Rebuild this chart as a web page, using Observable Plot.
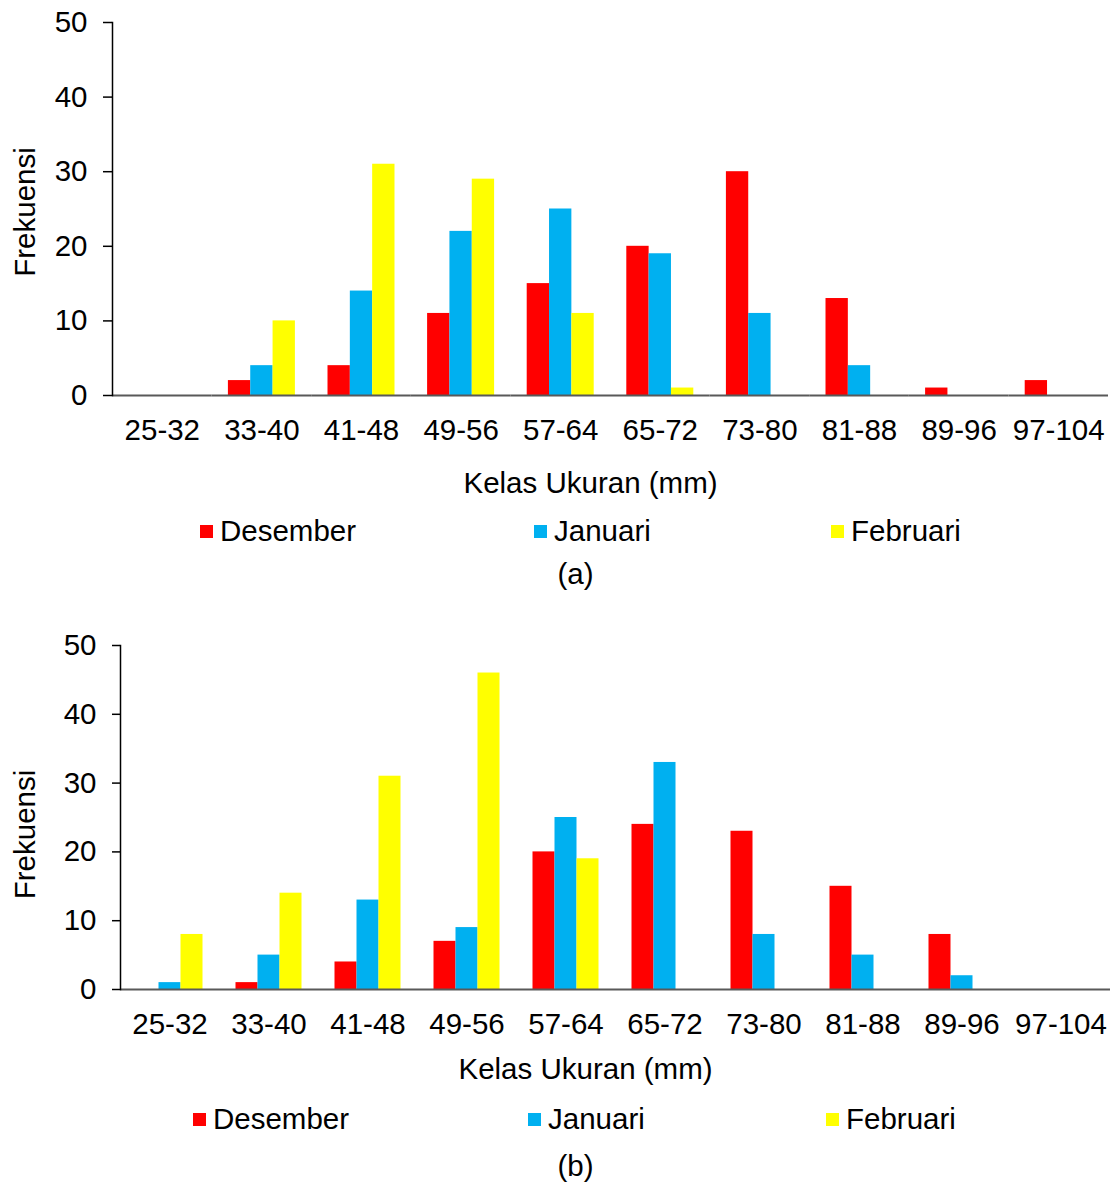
<!DOCTYPE html>
<html>
<head>
<meta charset="utf-8">
<script src="https://cdn.jsdelivr.net/npm/d3@7"></script>
<script src="https://cdn.jsdelivr.net/npm/@observablehq/plot@0.6"></script>
<style>
  html, body { margin: 0; padding: 0; background: #fff; }
  body { font-family: "Liberation Sans", Arial, sans-serif; color: #000; }
  #page { position: relative; width: 1111px; height: 1182px; overflow: hidden; }
  .chart { position: absolute; left: 0; }
  .legend { position: absolute; left: 0; width: 1111px; height: 34px; font-size: 29.5px; }
  .item { position: absolute; top: 0; display: flex; align-items: center; height: 34px; white-space: nowrap; }
  .sw { width: 13px; height: 13px; margin-right: 7px; display: inline-block; }
  .caption { position: absolute; left: 0; width: 1151px; text-align: center; font-size: 29.5px; }
</style>
</head>
<body>
<div id="page"></div>
<script>
const categories = ["25-32","33-40","41-48","49-56","57-64","65-72","73-80","81-88","89-96","97-104"];
const seriesNames = ["Desember","Januari","Februari"];
const seriesColors = ["#FF0000","#00B0F0","#FFFF00"];
const yTicks = [0,10,20,30,40,50];

// Chart (a)
const desemberA = [0,2,4,11,15,20,30,13,1,2];
const januariA  = [0,4,14,22,25,19,11,4,0,0];
const februariA = [0,10,31,29,11,1,0,0,0,0];
// Chart (b)
const desemberB = [0,1,4,7,20,24,23,15,8,0];
const januariB  = [1,5,13,9,25,33,8,5,2,0];
const februariB = [8,14,31,46,19,0,0,0,0,0];

const yLabel = "Frekuensi";
const xLabel = "Kelas Ukuran (mm)";
const FS = 29.5;

function table(series) {
  const rows = [];
  categories.forEach((k, i) => {
    series.forEach((vals, s) => rows.push({kelas: k, bulan: seriesNames[s], value: vals[i]}));
  });
  return rows;
}

function makeChart(rows, o) {
  return Plot.plot({
    width: 1111,
    height: o.height,
    marginLeft: o.ml,
    marginRight: o.mr,
    marginTop: o.mt,
    marginBottom: o.mb,
    style: {fontFamily: '"Liberation Sans", Arial, sans-serif', fontSize: FS + "px", color: "#000", background: "#fff", overflow: "visible"},
    fx: {domain: categories, padding: 0, round: false, label: null},
    x: {domain: seriesNames, paddingInner: 0, paddingOuter: o.po, round: false, axis: null},
    y: {domain: [0, 50], label: null},
    color: {domain: seriesNames, range: seriesColors},
    marks: [
      Plot.barY(rows, {fx: "kelas", x: "bulan", y: "value", fill: "bulan"}),
      Plot.ruleY([0], {stroke: "#595959", strokeWidth: 2}),
      Plot.frame({anchor: "left", stroke: "#000", strokeWidth: 1.5, facet: "super"}),
      Plot.axisY({ticks: yTicks, tickSize: o.ts, tickPadding: 16, fontSize: FS, label: null, stroke: "#000", strokeWidth: 1.5}),
      Plot.axisFx({anchor: "bottom", tickSize: 0, tickPadding: 24, fontSize: FS, label: null}),
      Plot.text([yLabel], {frameAnchor: "left", textAnchor: "middle", lineAnchor: "middle", rotate: -90, dx: o.ylx, dy: o.yly, fontSize: FS, facet: "super", fill: "#000"}),
      Plot.text([xLabel], {frameAnchor: "bottom", textAnchor: "middle", lineAnchor: "middle", dx: o.xlx, dy: o.xly, fontSize: FS, facet: "super", fill: "#000"})
    ]
  });
}

const page = document.getElementById("page");

function addLegend(top, lefts) {
  const lg = document.createElement("div");
  lg.className = "legend";
  lg.style.top = top + "px";
  seriesNames.forEach((n, i) => {
    const it = document.createElement("div");
    it.className = "item";
    it.style.left = lefts[i] + "px";
    const sw = document.createElement("span");
    sw.className = "sw";
    sw.style.background = seriesColors[i];
    it.appendChild(sw);
    it.appendChild(document.createTextNode(n));
    lg.appendChild(it);
  });
  page.appendChild(lg);
}
function addCaption(top, text) {
  const c = document.createElement("div");
  c.className = "caption";
  c.style.top = top + "px";
  c.textContent = text;
  page.appendChild(c);
}

const chartA = makeChart(table([desemberA, januariA, februariA]),
  {height: 510, ml: 112, mr: 3, mt: 22, mb: 115, po: 0.73, ts: 9, ylx: -87, yly: 3, xlx: -20, xly: 88});
chartA.classList.add("chart");
chartA.style.top = "0px";
page.appendChild(chartA);
addLegend(514, [200, 534, 831]);
addCaption(557, "(a)");

const chartB = makeChart(table([desemberB, januariB, februariB]),
  {height: 490, ml: 120, mr: 1, mt: 45, mb: 101, po: 0.75, ts: 8, ylx: -95, yly: 17, xlx: -30, xly: 80});
chartB.classList.add("chart");
chartB.style.top = "600px";
page.appendChild(chartB);
addLegend(1102, [193, 528, 826]);
addCaption(1149, "(b)");
</script>
</body>
</html>
